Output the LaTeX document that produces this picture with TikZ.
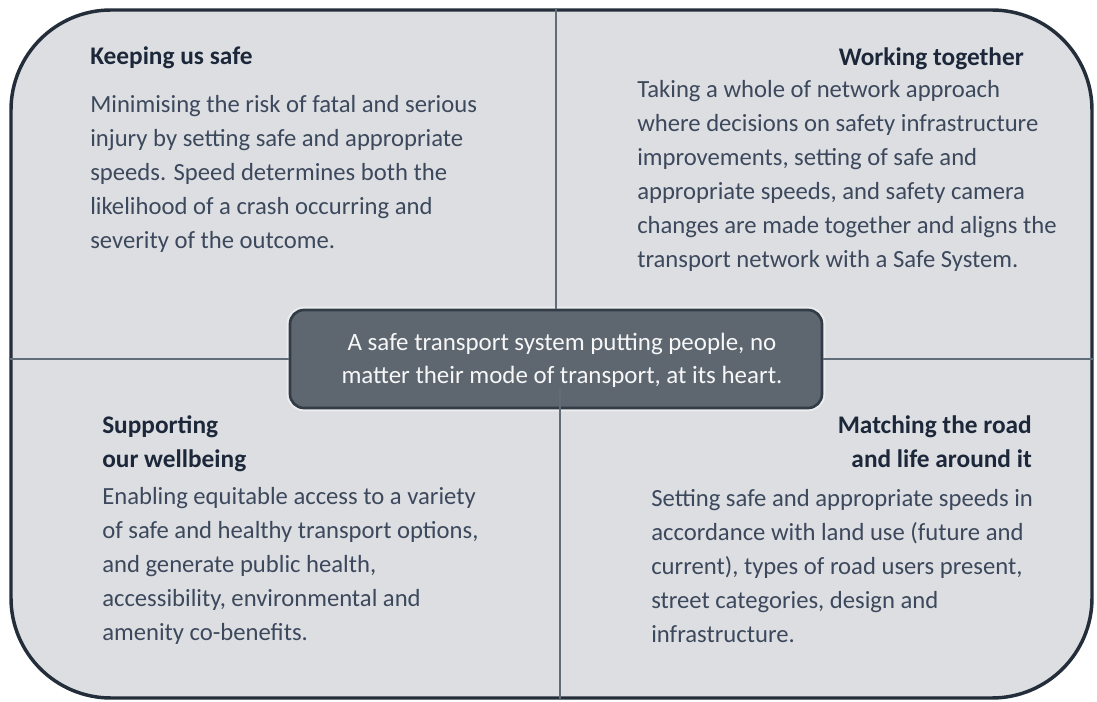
\documentclass[tikz,border=0pt]{standalone}
\usepackage{fontspec}
\setmainfont{Carlito}
\usetikzlibrary{positioning}
\definecolor{panelgray}{RGB}{221,222,226}
\definecolor{framedark}{RGB}{36,46,58}
\definecolor{divline}{RGB}{96,108,120}
\definecolor{bodyslate}{RGB}{60,72,92}
\definecolor{headnavy}{RGB}{28,40,58}
\definecolor{heartfill}{RGB}{94,103,112}
\definecolor{heartedge}{RGB}{50,60,70}
\definecolor{heartrim}{RGB}{236,237,239}
\tikzset{
	x=0.75pt,
	y=-0.75pt,
	frame/.style={
		draw=framedark,
		line width=2.6pt,
		fill=panelgray,
		rounded corners=75pt,
		minimum width=810.75pt,
		minimum height=516pt
	},
	divider/.style={
		draw=divline,
		line width=1.2pt
	},
	heading/.style={
		font=\fontsize{19}{25.5}\selectfont\bfseries,
		text=headnavy,
		inner sep=0pt
	},
	body/.style={
		font=\fontsize{18.5}{25.5}\selectfont,
		text=bodyslate,
		inner sep=0pt,
		align=left
	},
	heart/.style={
		preaction={draw=heartrim, line width=5pt},
		draw=heartedge,
		line width=2pt,
		fill=heartfill,
		rounded corners=10.5pt,
		minimum width=399pt,
		minimum height=73.5pt
	},
	heartText/.style={
		text=white!95!heartfill,
		font=\fontsize{18.7}{24.75}\selectfont,
		inner sep=0pt,
		align=center
	}
}
\begin{document}
\begin{tikzpicture}
	\useasboundingbox (0,0) rectangle (1097,702);
	\node [frame] (frame) at (551.5,354) {};
	\node [heart] (heart) at (556,359) {};
	\coordinate (cut) at (560,387);
	
	\draw [divider] (frame.north -| heart.north) -- (heart.north);
	\draw [divider] (frame.west |- heart.west) -- (heart.west);
	\draw [divider] (heart.east) -- (frame.east |- heart.east);
	
	\node [heartText] (heartLine) at (562,360) {A safe transport system putting people, no\\matter their mode of transport, at its heart.};
	\draw [divider] (cut) -- (cut |- frame.south);
	
	% keeping us safe (base = last line)
	\node [heading, anchor=base west] (safeHead) at (90,65) {Keeping us safe};
	\node [body, anchor=base west] (safeText) at (90,249) {Minimising the risk of fatal and serious\\injury by setting safe and appropriate\\speeds. Speed determines both the\\likelihood of a crash occurring and\\severity of the outcome.};
	
	% working together
	\node [heading, anchor=base east] (workHead) at (1024,66) {Working together};
	\node [body, anchor=base west] (workText) at (637,268) {Taking a whole of network approach\\where decisions on safety infrastructure\\improvements, setting of safe and\\appropriate speeds, and safety camera\\changes are made together and aligns the\\transport network with a Safe System.};
	
	% supporting our wellbeing
	\node [heading, align=left, anchor=base west] (wellHead) at (102,468) {Supporting\\our wellbeing};
	\node [body, anchor=base west] (wellText) at (102,640) {Enabling equitable access to a variety\\of safe and healthy transport options,\\and generate public health,\\accessibility, environmental and\\amenity co-benefits.};
	
	% matching the road
	\node [heading, align=right, anchor=base east] (roadHead) at (1032,468) {Matching the road\\and life around it};
	\node [body, anchor=base west] (roadText) at (651,642) {Setting safe and appropriate speeds in\\accordance with land use (future and\\current), types of road users present,\\street categories, design and\\infrastructure.};
\end{tikzpicture}
\end{document}
